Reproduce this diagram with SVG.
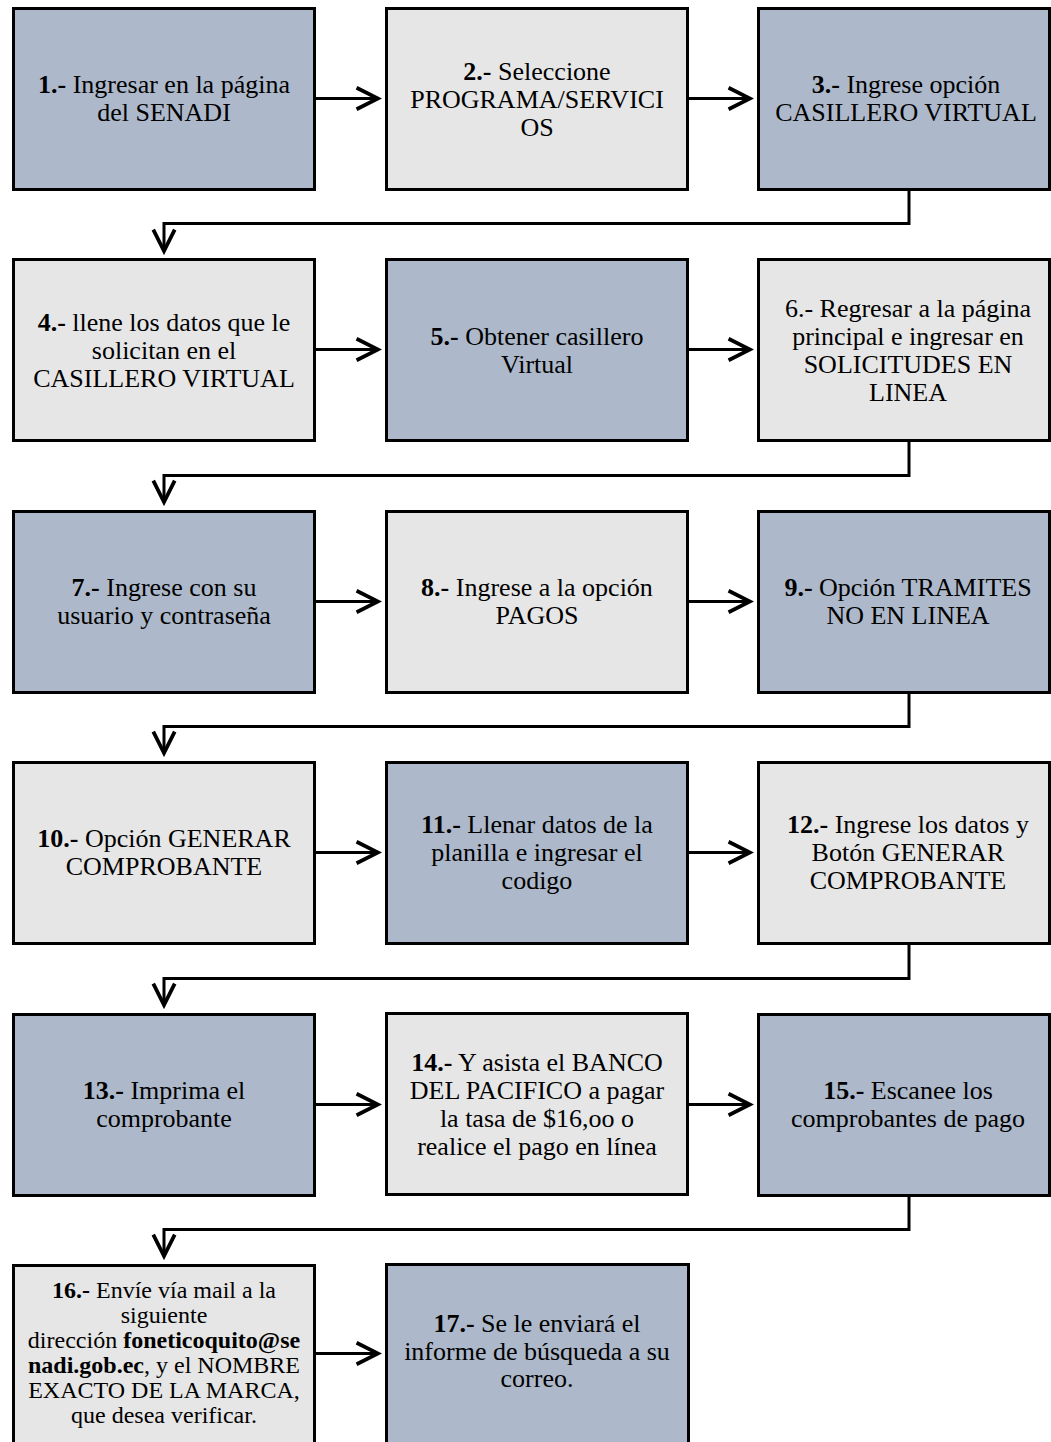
<svg xmlns="http://www.w3.org/2000/svg" width="1051" height="1442" viewBox="0 0 1051 1442">
<defs>
<style>
.b{fill:#adb9ca;stroke:#000;stroke-width:3}
.g{fill:#e6e6e6;stroke:#000;stroke-width:3}
text{font-family:"Liberation Serif","Times New Roman",serif;font-size:26px;fill:#000;text-anchor:middle}
.s{font-size:24px}
.k{font-weight:bold}
.c{fill:none;stroke:#000;stroke-width:3}
</style>
<marker id="ah" markerUnits="userSpaceOnUse" markerWidth="30" markerHeight="30" viewBox="-24 -14 28 28" refX="0" refY="0" orient="auto">
<path d="M-20,-10 L0,0 L-20,10" fill="none" stroke="#000" stroke-width="3.5"/>
</marker>
</defs>
<rect width="1051" height="1442" fill="#fff"/>

<g id="n1"><rect class="b" x="13.5" y="8.5" width="301" height="181"/>
<text x="164" y="93"><tspan class="k">1.-</tspan> Ingresar en la página</text>
<text x="164" y="121">del SENADI</text></g>

<g id="n2"><rect class="g" x="386.5" y="8.5" width="301" height="181"/>
<text x="537" y="79.5"><tspan class="k">2.-</tspan> Seleccione</text>
<text x="537" y="107.5">PROGRAMA/SERVICI</text>
<text x="537" y="135.5">OS</text></g>

<g id="n3"><rect class="b" x="758.5" y="8.5" width="291" height="181"/>
<text x="906" y="93"><tspan class="k">3.-</tspan> Ingrese opción</text>
<text x="906" y="121">CASILLERO VIRTUAL</text></g>

<g id="n4"><rect class="g" x="13.5" y="259.5" width="301" height="181"/>
<text x="164" y="330.5"><tspan class="k">4.-</tspan> llene los datos que le</text>
<text x="164" y="358.5">solicitan en el</text>
<text x="164" y="386.5">CASILLERO VIRTUAL</text></g>

<g id="n5"><rect class="b" x="386.5" y="259.5" width="301" height="181"/>
<text x="537" y="344.5"><tspan class="k">5.-</tspan> Obtener casillero</text>
<text x="537" y="372.5">Virtual</text></g>

<g id="n6"><rect class="g" x="758.5" y="259.5" width="291" height="181"/>
<text x="908" y="316.5">6.- Regresar a la página</text>
<text x="908" y="344.5">principal e ingresar en</text>
<text x="908" y="372.5">SOLICITUDES EN</text>
<text x="908" y="400.5">LINEA</text></g>

<g id="n7"><rect class="b" x="13.5" y="511.5" width="301" height="181"/>
<text x="164" y="596"><tspan class="k">7.-</tspan> Ingrese con su</text>
<text x="164" y="624">usuario y contraseña</text></g>

<g id="n8"><rect class="g" x="386.5" y="511.5" width="301" height="181"/>
<text x="537" y="596"><tspan class="k">8.-</tspan> Ingrese a la opción</text>
<text x="537" y="624">PAGOS</text></g>

<g id="n9"><rect class="b" x="758.5" y="511.5" width="291" height="181"/>
<text x="908" y="596"><tspan class="k">9.-</tspan> Opción TRAMITES</text>
<text x="908" y="624">NO EN LINEA</text></g>

<g id="n10"><rect class="g" x="13.5" y="762.5" width="301" height="181"/>
<text x="164" y="847"><tspan class="k">10.-</tspan> Opción GENERAR</text>
<text x="164" y="875">COMPROBANTE</text></g>

<g id="n11"><rect class="b" x="386.5" y="762.5" width="301" height="181"/>
<text x="537" y="833"><tspan class="k">11.-</tspan> Llenar datos de la</text>
<text x="537" y="861">planilla e ingresar el</text>
<text x="537" y="889">codigo</text></g>

<g id="n12"><rect class="g" x="758.5" y="762.5" width="291" height="181"/>
<text x="908" y="833"><tspan class="k">12.-</tspan> Ingrese los datos y</text>
<text x="908" y="861">Botón GENERAR</text>
<text x="908" y="889">COMPROBANTE</text></g>

<g id="n13"><rect class="b" x="13.5" y="1014.5" width="301" height="181"/>
<text x="164" y="1098.5"><tspan class="k">13.-</tspan> Imprima el</text>
<text x="164" y="1126.5">comprobante</text></g>

<g id="n14"><rect class="g" x="386.5" y="1013.5" width="301" height="181"/>
<text x="537" y="1070.5"><tspan class="k">14.-</tspan> Y asista el BANCO</text>
<text x="537" y="1098.5">DEL PACIFICO a pagar</text>
<text x="537" y="1126.5">la tasa de $16,oo o</text>
<text x="537" y="1154.5">realice el pago en línea</text></g>

<g id="n15"><rect class="b" x="758.5" y="1014.5" width="291" height="181"/>
<text x="908" y="1098.5"><tspan class="k">15.-</tspan> Escanee los</text>
<text x="908" y="1126.5">comprobantes de pago</text></g>

<g id="n16"><rect class="g" x="13.5" y="1265.5" width="301" height="185"/>
<text class="s" x="164" y="1298"><tspan class="k">16.-</tspan> Envíe vía mail a la</text>
<text class="s" x="164" y="1323">siguiente</text>
<text class="s" x="164" y="1348">dirección <tspan class="k">foneticoquito@se</tspan></text>
<text class="s" x="164" y="1373"><tspan class="k">nadi.gob.ec</tspan>, y el NOMBRE</text>
<text class="s" x="164" y="1398">EXACTO DE LA MARCA,</text>
<text class="s" x="164" y="1423">que desea verificar.</text></g>

<g id="n17"><rect class="b" x="386.5" y="1264.5" width="302" height="185"/>
<text x="537" y="1332"><tspan class="k">17.-</tspan> Se le enviará el</text>
<text x="537" y="1360">informe de búsqueda a su</text>
<text x="537" y="1387">correo.</text></g>

<g id="connectors" class="c">
<path class="c" d="M316,98.5 H378" marker-end="url(#ah)"/>
<path class="c" d="M689,98.5 H750" marker-end="url(#ah)"/>
<path class="c" d="M316,349.5 H378" marker-end="url(#ah)"/>
<path class="c" d="M689,349.5 H750" marker-end="url(#ah)"/>
<path class="c" d="M316,601.5 H378" marker-end="url(#ah)"/>
<path class="c" d="M689,601.5 H750" marker-end="url(#ah)"/>
<path class="c" d="M316,852.5 H378" marker-end="url(#ah)"/>
<path class="c" d="M689,852.5 H750" marker-end="url(#ah)"/>
<path class="c" d="M316,1104.5 H378" marker-end="url(#ah)"/>
<path class="c" d="M689,1104.5 H750" marker-end="url(#ah)"/>
<path class="c" d="M316,1353.5 H378" marker-end="url(#ah)"/>
<path class="c" d="M909,191 V223.5 H164 V251" marker-end="url(#ah)"/>
<path class="c" d="M909,442 V475.5 H164 V502" marker-end="url(#ah)"/>
<path class="c" d="M909,694 V726.5 H164 V753" marker-end="url(#ah)"/>
<path class="c" d="M909,945 V978.5 H164 V1005" marker-end="url(#ah)"/>
<path class="c" d="M909,1196 V1229.5 H164 V1256" marker-end="url(#ah)"/>
</g>
</svg>
